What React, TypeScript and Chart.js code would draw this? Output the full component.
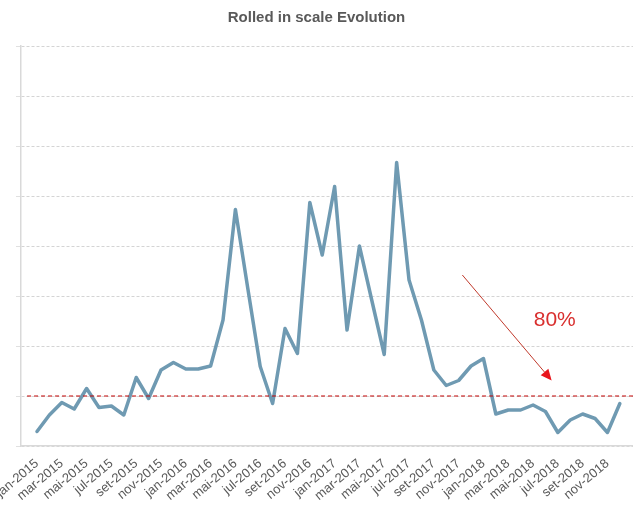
import React, { useEffect, useRef } from "react";
import { Chart, registerables } from "chart.js";

Chart.register(...registerables);

const TITLE = "Rolled in scale Evolution";

const categories: string[] = [
  "jan-2015", "fev-2015", "mar-2015", "abr-2015", "mai-2015", "jun-2015",
  "jul-2015", "ago-2015", "set-2015", "out-2015", "nov-2015", "dez-2015",
  "jan-2016", "fev-2016", "mar-2016", "abr-2016", "mai-2016", "jun-2016",
  "jul-2016", "ago-2016", "set-2016", "out-2016", "nov-2016", "dez-2016",
  "jan-2017", "fev-2017", "mar-2017", "abr-2017", "mai-2017", "jun-2017",
  "jul-2017", "ago-2017", "set-2017", "out-2017", "nov-2017", "dez-2017",
  "jan-2018", "fev-2018", "mar-2018", "abr-2018", "mai-2018", "jun-2018",
  "jul-2018", "ago-2018", "set-2018", "out-2018", "nov-2018", "dez-2018",
];

const rolledInScale: number[] = [
  0.29, 0.62, 0.87, 0.74, 1.15, 0.77, 0.80, 0.62, 1.37, 0.95, 1.52, 1.67,
  1.54, 1.54, 1.60, 2.52, 4.73, 3.15, 1.59, 0.85, 2.35, 1.85, 4.87, 3.82,
  5.19, 2.32, 4.00, 2.91, 1.83, 5.67, 3.32, 2.52, 1.52, 1.21, 1.31, 1.60,
  1.75, 0.64, 0.72, 0.72, 0.82, 0.69, 0.27, 0.52, 0.64, 0.55, 0.27, 0.85,
];

// every other month is labelled on the axis
const tickIndices: number[] = [
  0, 2, 4, 6, 8, 10, 12, 14, 16, 18, 20, 22,
  24, 26, 28, 30, 32, 34, 36, 38, 40, 42, 44, 46,
];

const thresholdValue = 1;
const thresholdSpan: number[] = [-0.8, 48.1];

const yTicks: number[] = [0, 8];

// annotation in data units: arrow from (month index, value) to (month index, value)
const arrowFrom: number[] = [34.3, 3.42];
const arrowTo: number[] = [41.5, 1.31];
const noteText = "80%";
const notePos: number[] = [41.75, 2.52];

const arrowPlugin = {
  id: "arrowNote",
  afterDatasetsDraw(chart: any) {
    const { ctx, scales } = chart;
    const xs = scales.x;
    const ys = scales.y;
    const x1 = xs.getPixelForValue(arrowFrom[0]);
    const y1 = ys.getPixelForValue(arrowFrom[1]);
    const x2 = xs.getPixelForValue(arrowTo[0]);
    const y2 = ys.getPixelForValue(arrowTo[1]);
    const ang = Math.atan2(y2 - y1, x2 - x1);
    const headLen = 11;
    const headHalf = 5;
    const bx = x2 - headLen * Math.cos(ang);
    const by = y2 - headLen * Math.sin(ang);
    ctx.save();
    ctx.strokeStyle = "#c0392b";
    ctx.lineWidth = 1;
    ctx.beginPath();
    ctx.moveTo(x1, y1);
    ctx.lineTo(bx, by);
    ctx.stroke();
    ctx.fillStyle = "#e8141b";
    ctx.beginPath();
    ctx.moveTo(x2, y2);
    ctx.lineTo(bx + headHalf * Math.sin(ang), by - headHalf * Math.cos(ang));
    ctx.lineTo(bx - headHalf * Math.sin(ang), by + headHalf * Math.cos(ang));
    ctx.closePath();
    ctx.fill();
    ctx.fillStyle = "#d9302f";
    ctx.font = "21px 'Liberation Sans', Arial, sans-serif";
    ctx.textAlign = "center";
    ctx.textBaseline = "middle";
    ctx.fillText(noteText, xs.getPixelForValue(notePos[0]), ys.getPixelForValue(notePos[1]));
    ctx.restore();
  },
};

export default function App() {
  const canvasRef = useRef<HTMLCanvasElement | null>(null);

  useEffect(() => {
    const canvas = canvasRef.current;
    if (!canvas) return;
    const chart = new Chart(canvas, {
      type: "line",
      data: {
        datasets: [
          {
            label: "Rolled in scale",
            data: rolledInScale.map((v, i) => ({ x: i, y: v })),
            borderColor: "#6f9ab2",
            borderWidth: 3.5,
            pointRadius: 0,
            tension: 0,
            borderJoinStyle: "round",
            borderCapStyle: "round",
            order: 1,
          },
          {
            label: "Threshold",
            data: thresholdSpan.map((x) => ({ x, y: thresholdValue })),
            borderColor: "#c00000",
            borderWidth: 1,
            borderDash: [4, 3],
            pointRadius: 0,
            order: 0,
          },
        ],
      },
      options: {
        responsive: false,
        animation: false,
        layout: { padding: 0 },
        plugins: {
          legend: { display: false },
          tooltip: { enabled: false },
          title: {
            display: true,
            text: TITLE,
            color: "#595959",
            font: { family: "'Liberation Sans', Arial, sans-serif", size: 15, weight: "bold", lineHeight: 1.2 },
            padding: { top: 9, bottom: 19 },
          },
        },
        scales: {
          x: {
            type: "linear",
            min: -1.29,
            max: 48.06,
            grid: { display: false },
            border: { display: true, color: "#d9d9d9", width: 1.5 },
            ticks: {
              autoSkip: false,
              minRotation: 40,
              maxRotation: 40,
              padding: 2,
              color: "#595959",
              font: { family: "'Liberation Sans', Arial, sans-serif", size: 13 },
              callback: (value: any) => categories[Math.round(Number(value))] ?? "",
            },
            afterBuildTicks: (scale: any) => {
              scale.ticks = tickIndices.map((v) => ({ value: v }));
            },
            afterFit: (scale: any) => {
              scale.paddingLeft = 0;
              scale.paddingRight = 0;
              scale.height = 65;
            },
          },
          y: {
            min: yTicks[0],
            max: yTicks[1],
            ticks: { display: false, stepSize: 1 },
            grid: { color: "#d4d4d4", lineWidth: 1, tickLength: 5, tickColor: "#e0e0e0" },
            border: { display: true, color: "#d9d9d9", width: 1.5, dash: [3, 2] },
            afterFit: (scale: any) => {
              scale.width = 21;
            },
          },
        },
      },
      plugins: [arrowPlugin],
    });
    return () => chart.destroy();
  }, []);

  return (
    <div style={{ position: "fixed", left: 0, top: 0, width: 633, height: 511, background: "#ffffff" }}>
      <canvas ref={canvasRef} width={633} height={511} style={{ display: "block" }} />
    </div>
  );
}
